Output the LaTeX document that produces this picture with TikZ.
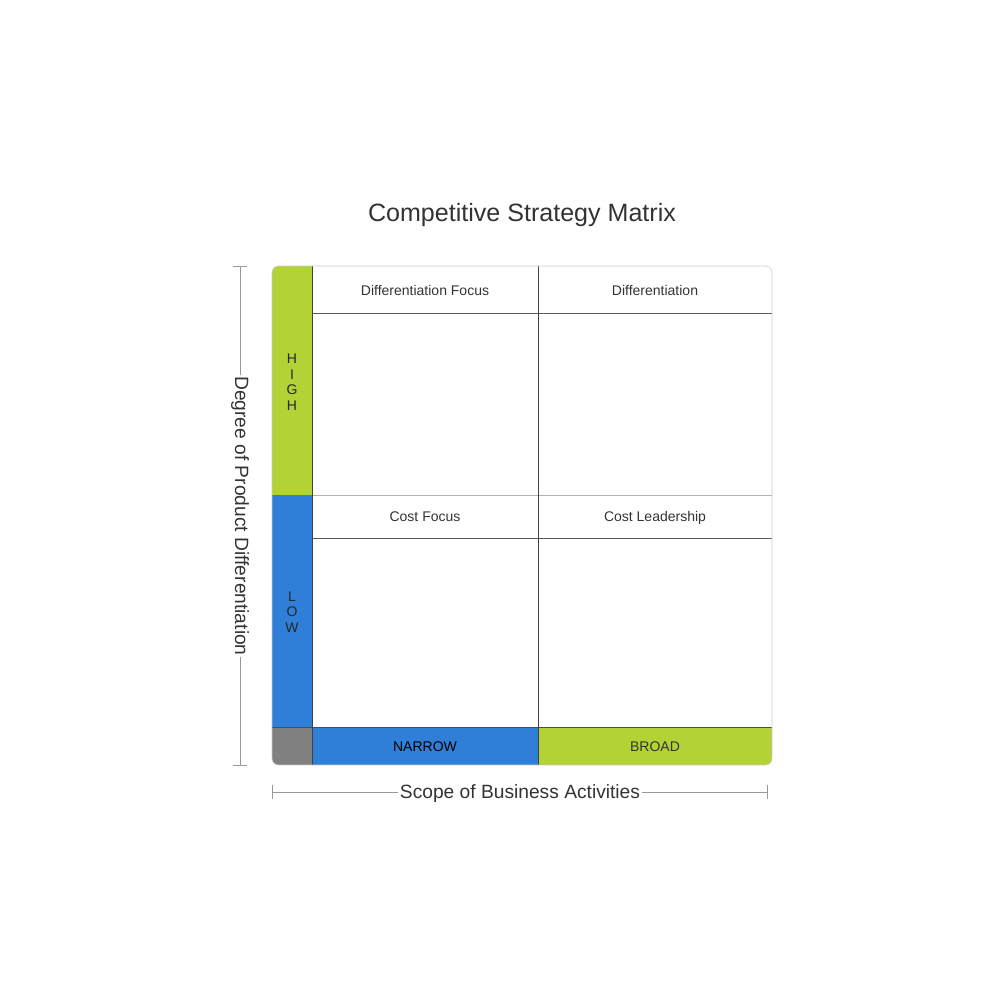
\documentclass[tikz,border=0pt]{standalone}
\usepackage{fontspec}
\setmainfont{Liberation Sans}
\definecolor{lime}{HTML}{B2D235}
\definecolor{azure}{HTML}{2F7ED8}
\definecolor{txt}{HTML}{333333}
\definecolor{rim}{HTML}{C8C8C8}
\begin{document}
\begin{tikzpicture}[x=0.75pt,y=-0.75pt,
  cell/.style={inner sep=0pt,text=txt,text height=7.6pt,text depth=2.2pt,font=\fontsize{10.5}{12}\selectfont},
  side/.style={inner sep=0pt,minimum width=30pt,align=center,text=black!85,font=\fontsize{10.5}{11.6}\selectfont},
  axis/.style={draw=gray!80,thin},
  axislabel/.style={inner sep=1pt,text=txt,font=\fontsize{14.4}{17}\selectfont}]
\useasboundingbox (0,0) rectangle (1000,1000);
\node[text=txt,font=\fontsize{18.8}{22}\selectfont] (title) at (522,215) {Competitive Strategy Matrix};
\begin{scope}
\clip[rounded corners=5pt] (272,266) rectangle (772,765);
\fill[lime] (272,266) rectangle (312,495);
\fill[azure] (272,495) rectangle (312,727);
\fill[gray] (272,727) rectangle (312,765);
\fill[azure] (312,727) rectangle (538,765);
\fill[lime] (538,727) rectangle (772,765);
\end{scope}
\node[side] (high) at (292,382) {H\\I\\G\\H};
\node[side] (low) at (292,612) {L\\O\\W};
\node[cell,text=black] (narrow) at (425,747.5) {NARROW};
\node[cell] (broad) at (655,747.5) {BROAD};
\node[cell] (difffocus) at (425,292) {Differentiation Focus};
\node[cell] (diff) at (655,292) {Differentiation};
\node[cell] (costfocus) at (425,518) {Cost Focus};
\node[cell] (costlead) at (655,518) {Cost Leadership};
\path[draw,gray!70!black] (312,313) -- (772,313);
\path[draw,gray!60] (312,495) -- (772,495);
\path[draw,gray!70!black] (312,538) -- (772,538);
\path[draw,black!70] (272,727) -- (772,727);
\path[draw,black!75] (538,266) -- (538,765);
\path[draw,black!75] (312,266) -- (312,765);
\draw[rim,rounded corners=5pt] (272,266) rectangle (772,765);
\coordinate (ytop) at (240,266);
\coordinate (ybot) at (240,765);
\node[axislabel,rotate=-90] (ylabel) at (240,516) {Degree of Product Differentiation};
\path[axis] (ytop) -- (ylabel.west);
\path[axis] (ylabel.east) -- (ybot);
\path[axis] (233,266) -- (247,266);
\path[axis] (233,765) -- (247,765);
\coordinate (xleft) at (272,792);
\coordinate (xright) at (767,792);
\node[axislabel] (xlabel) at (520,794) {Scope of Business Activities};
\path[axis] (xleft) -- (xlabel.west |- xleft);
\path[axis] (xlabel.east |- xright) -- (xright);
\path[axis] (272,785) -- (272,799);
\path[axis] (767,785) -- (767,799);
\end{tikzpicture}
\end{document}
